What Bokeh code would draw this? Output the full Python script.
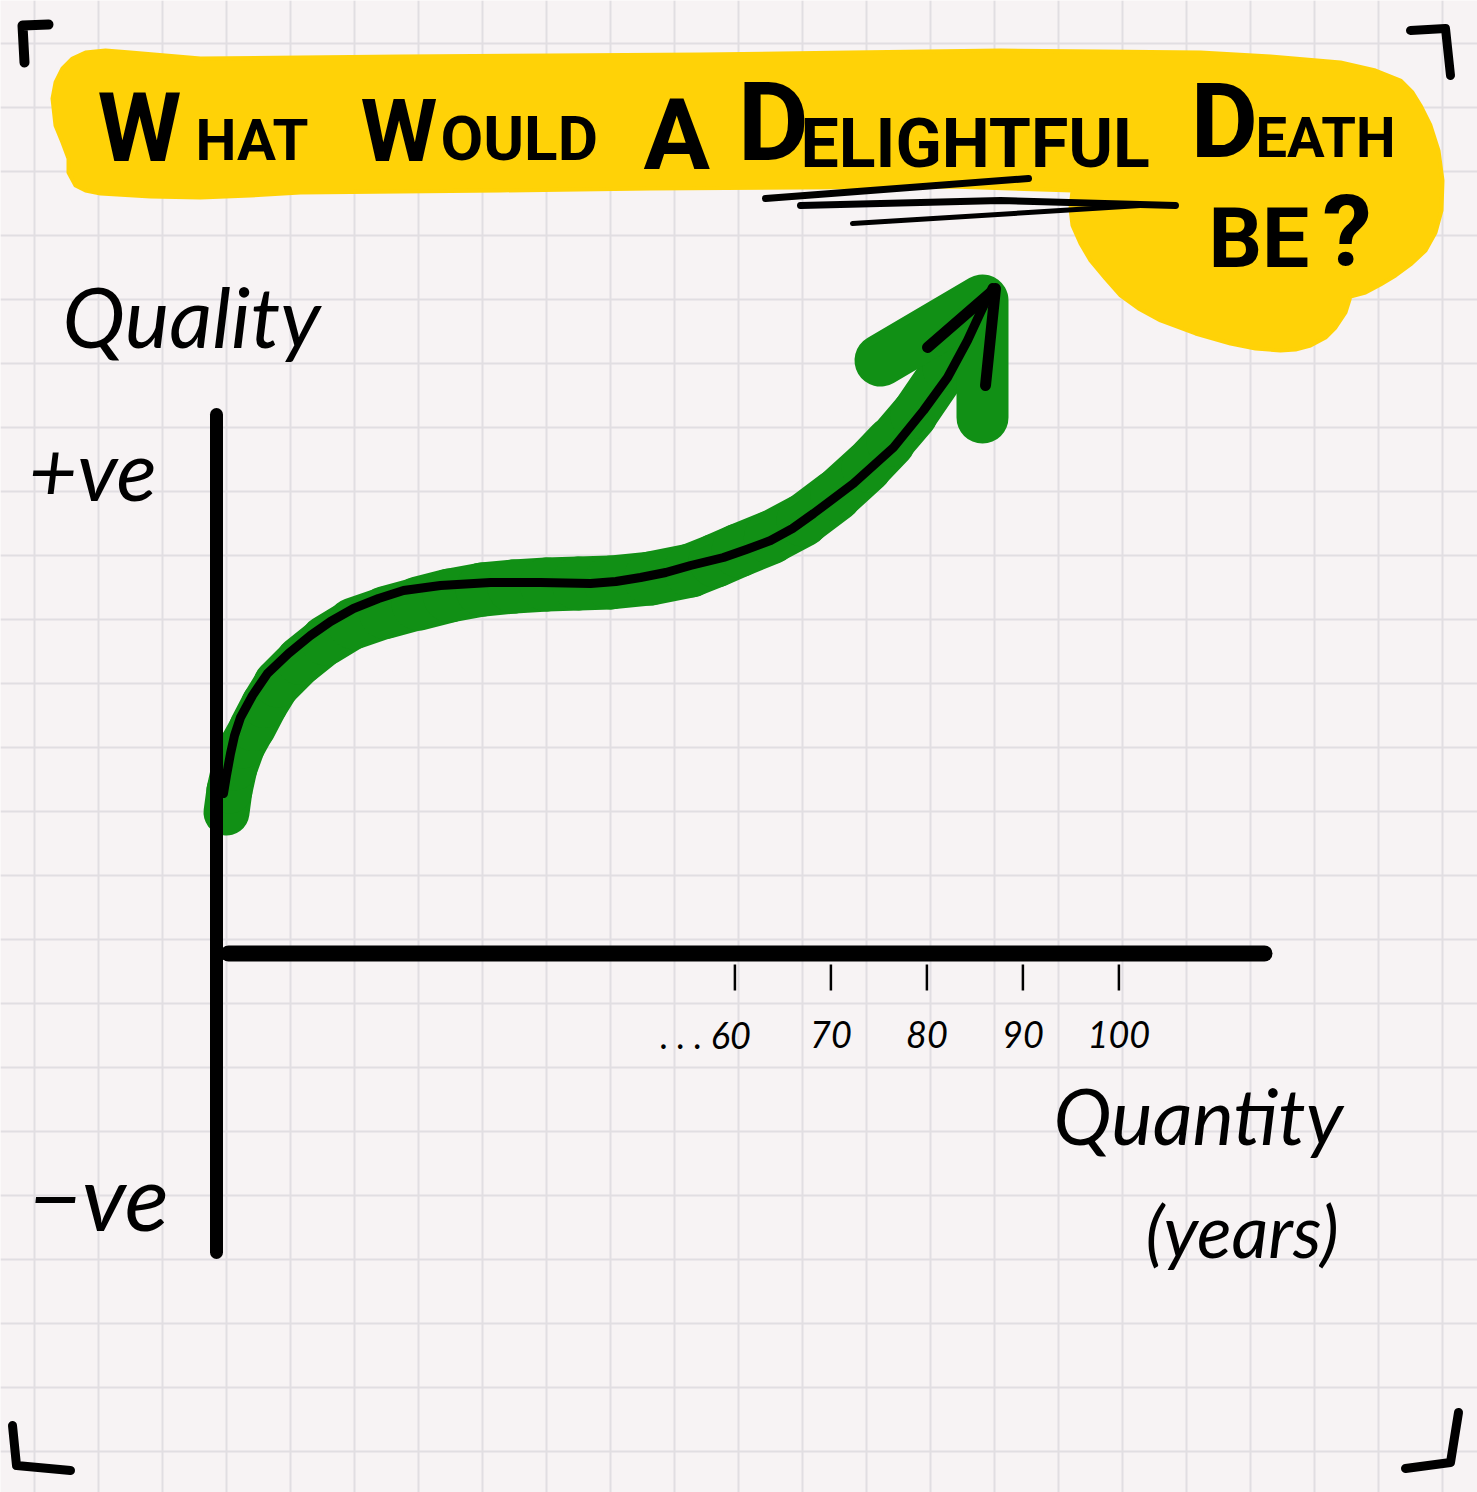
from bokeh.plotting import figure
from bokeh.embed import file_html
from bokeh.resources import INLINE
from bokeh.models import FixedTicker
from bokeh.core.properties import value

# The curve: years lived against quality of life
curve_years = [6.73, 7.04, 7.46, 7.88, 8.5, 9.75, 11.31, 13.5, 15.79, 17.88, 20.27, 22.88, 25.48, 29.33, 34.54, 39.75, 44.96, 47.6, 50.17, 52.8, 55.38, 58.81, 61.2, 63.71, 66.0, 68.19, 72.35, 76.52, 79.65, 82.15, 84.23, 85.58, 86.83]
curve_quality = [16.0, 17.8, 20.0, 21.8, 23.6, 25.8, 28.0, 30.0, 31.8, 33.2, 34.5, 35.5, 36.3, 36.8, 37.1, 37.1, 37.0, 37.2, 37.6, 38.1, 38.8, 39.6, 40.4, 41.3, 42.5, 44.0, 47.0, 50.6, 54.3, 57.6, 61.3, 64.1, 66.6]
# The green marker stroke that sits under the curve
green_years = [7.04, 7.35, 7.88, 8.71, 9.75, 11.0, 12.35, 14.75, 17.35, 20.27, 23.6, 27.04, 30.3, 33.71, 37.0, 40.38, 43.7, 47.04, 51.2, 55.38, 58.0, 60.38, 63.7, 67.04, 70.5, 73.71, 76.2, 78.6, 81.94, 84.54, 85.79]
green_quality = [14.1, 16.3, 18.6, 20.8, 22.6, 24.9, 27.0, 29.3, 31.3, 33.0, 34.1, 35.0, 35.8, 36.4, 36.7, 36.9, 37.0, 37.1, 37.5, 38.3, 39.3, 40.3, 41.6, 43.3, 45.8, 48.6, 51.1, 53.8, 58.5, 62.8, 65.3]
tick_years = [60, 70, 80, 90, 100]
tick_labels = [". . . 60", "70", "80", "90", "100"]
title_words = ["W", "HAT", "W", "OULD", "A", "D", "ELIGHTFUL", "D", "EATH", "BE", "?"]

# Sketch annotations, in sheet units
yellow_x = [52, 55, 62, 72, 85, 105, 130, 165, 200, 300, 400, 550, 700, 850, 1000, 1100, 1200, 1270, 1340, 1375, 1400, 1412, 1420, 1430, 1438, 1442, 1441, 1435, 1425, 1410, 1395, 1380, 1365, 1350, 1345, 1335, 1325, 1310, 1295, 1280, 1255, 1230, 1195, 1160, 1138, 1120, 1105, 1090, 1080, 1072, 1070, 1072, 950, 800, 650, 500, 400, 300, 250, 200, 150, 100, 85, 75, 68, 68, 62, 55]
yellow_y = [98, 82, 68, 58, 52, 50, 52, 55, 58, 57, 56, 55, 54, 52, 50, 51, 52, 56, 62, 70, 80, 92, 105, 125, 150, 180, 210, 232, 250, 264, 275, 284, 292, 296, 312, 327, 337, 345, 349, 350, 348, 343, 333, 320, 308, 295, 278, 260, 243, 225, 208, 190, 186, 187, 188, 190, 191, 192, 195, 197, 196, 193, 190, 185, 172, 158, 142, 125]
strokes = [
    ([24, 22, 48], [62, 25, 24], 10), ([1410, 1445, 1450], [30, 28, 75], 9),
    ([12, 16, 70], [1425, 1465, 1470], 9), ([1405, 1450, 1458], [1468, 1462, 1412], 9),
    ([765, 1028], [198, 178], 7), ([800, 1000, 1175], [205, 200, 205], 7), ([852, 1060, 1140], [223, 210, 205], 5),
]

def sx(v):
    return 6 + (v - 216) / 9.6

def sy(v):
    return (953 - v) / 10

p = figure(width=1477, height=1492, output_backend="svg", toolbar_location=None,
           x_range=(sx(0), sx(1477)), y_range=(sy(1492), sy(0)),
           background_fill_color="#F7F3F4", border_fill_color="#F7F3F4", min_border=0)
p.outline_line_color = None
p.xaxis.visible = False
p.yaxis.visible = False
p.xgrid.ticker = FixedTicker(ticks=[sx(34 + 64 * i) for i in range(23)])
p.ygrid.ticker = FixedTicker(ticks=[sy(43 + 64 * i) for i in range(23)])
p.grid.grid_line_color = "#E1DEE2"
p.grid.grid_line_width = 2

p.patch([sx(v) for v in yellow_x], [sy(v) for v in yellow_y], fill_color="#FFD207", line_color="#FFD207", line_width=4, line_join="round")

GREEN = "#119015"
green_widths = [46, 46, 46, 46, 47, 47, 48, 49, 50, 52, 53, 54, 54, 54, 54, 54, 54, 54, 54, 54, 54, 54, 53, 52, 51, 50, 48, 47, 46, 46]
p.segment(green_years[:-1], green_quality[:-1], green_years[1:], green_quality[1:],
          line_color=GREEN, line_width=green_widths, line_cap="round")
p.line([sx(880), sx(982), sx(982)], [sy(360), sy(300), sy(417)], line_color=GREEN, line_width=52, line_cap="round", line_join="round")
p.line(curve_years, curve_quality, line_color="black", line_width=9, line_cap="round", line_join="round")
p.line([sx(927), sx(995), sx(985)], [sy(347), sy(288), sy(385)], line_color="black", line_width=11, line_cap="round", line_join="round")

for xs, ys, w in strokes:
    p.line([sx(v) for v in xs], [sy(v) for v in ys], line_color="black", line_width=w, line_cap="round", line_join="round")

p.line([sx(216), sx(216)], [sy(414), sy(1252)], line_color="black", line_width=13, line_cap="round")
p.line([sx(228), sx(1264)], [sy(953), sy(953)], line_color="black", line_width=16, line_cap="round")
p.segment(tick_years, [sy(964)] * 5, tick_years, [sy(990)] * 5, line_color="black", line_width=2.5)

def put(text, x, y, size, align="left", style="bold", font="Roboto"):
    p.text([sx(x)], [sy(y - 0.36 * size)], text=[text], text_font=value(font), text_font_size=f"{size}px",
           text_font_style=style, text_color="black", text_align=align, text_baseline="alphabetic")

title_x = [97, 195, 360, 440, 643, 737, 800, 1190, 1255, 1208, 1322]
title_y = [162, 160, 162, 160, 170, 162, 168, 158, 158, 268, 266]
title_size = [96, 58, 88, 62, 99, 110, 68, 104, 56, 84, 99]
for w, x, y, s in zip(title_words, title_x, title_y, title_size):
    put(w, x, y, s)

put("Quality", 62, 345, 84, style="italic", font="Lato")
put("+ve", 28, 498, 84, style="italic", font="Lato")
put("\u2212ve", 28, 1228, 92, style="italic", font="Lato")
put("Quantity", 1053, 1143, 78, style="italic", font="Lato")
put("(years)", 1145, 1255, 72, style="italic", font="Lato")
for yr, lab in zip(tick_years, tick_labels):
    tick_px = 216 + (yr - 6) * 9.6
    if yr == 60:
        put(lab, tick_px + 16, 1047, 36, align="right", style="italic", font="Lato")
    else:
        put(lab, tick_px, 1047, 36, align="center", style="italic", font="Lato")

open("out.html", "w").write(file_html(p, INLINE))
